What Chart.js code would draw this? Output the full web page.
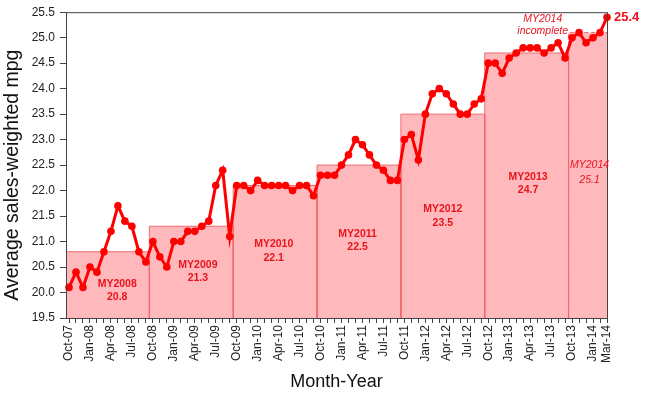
<!DOCTYPE html>
<html>
<head>
<meta charset="utf-8">
<script src="https://cdn.jsdelivr.net/npm/chart.js@4.4.1/dist/chart.umd.min.js"></script>
<style>
  html, body { margin: 0; padding: 0; background: #fff; }
  #wrap { width: 646px; height: 396px; position: relative; }
</style>
</head>
<body>
<div id="wrap"><canvas id="c" width="646" height="396"></canvas></div>
<script>
// ---- Data ----
const months = [
  'Oct-07','Nov-07','Dec-07',
  'Jan-08','Feb-08','Mar-08','Apr-08','May-08','Jun-08','Jul-08','Aug-08','Sep-08','Oct-08','Nov-08','Dec-08',
  'Jan-09','Feb-09','Mar-09','Apr-09','May-09','Jun-09','Jul-09','Aug-09','Sep-09','Oct-09','Nov-09','Dec-09',
  'Jan-10','Feb-10','Mar-10','Apr-10','May-10','Jun-10','Jul-10','Aug-10','Sep-10','Oct-10','Nov-10','Dec-10',
  'Jan-11','Feb-11','Mar-11','Apr-11','May-11','Jun-11','Jul-11','Aug-11','Sep-11','Oct-11','Nov-11','Dec-11',
  'Jan-12','Feb-12','Mar-12','Apr-12','May-12','Jun-12','Jul-12','Aug-12','Sep-12','Oct-12','Nov-12','Dec-12',
  'Jan-13','Feb-13','Mar-13','Apr-13','May-13','Jun-13','Jul-13','Aug-13','Sep-13','Oct-13','Nov-13','Dec-13',
  'Jan-14','Feb-14','Mar-14'
];
const monthlyMpg = [
  20.1,20.4,20.1,20.5,20.4,20.8,21.2,21.7,21.4,21.3,20.8,20.6,
  21.0,20.7,20.5,21.0,21.0,21.2,21.2,21.3,21.4,22.1,22.4,21.1,
  22.1,22.1,22.0,22.2,22.1,22.1,22.1,22.1,22.0,22.1,22.1,21.9,
  22.3,22.3,22.3,22.5,22.7,23.0,22.9,22.7,22.5,22.4,22.2,22.2,
  23.0,23.1,22.6,23.5,23.9,24.0,23.9,23.7,23.5,23.5,23.7,23.8,
  24.5,24.5,24.3,24.6,24.7,24.8,24.8,24.8,24.7,24.8,24.9,24.6,
  25.0,25.1,24.9,25.0,25.1,25.4
];
const modelYears = ['MY2008','MY2009','MY2010','MY2011','MY2012','MY2013','MY2014'];
const modelYearMpg = [20.8, 21.3, 22.1, 22.5, 23.5, 24.7, 25.1];
const modelYearStart = ['Oct-07','Oct-08','Oct-09','Oct-10','Oct-11','Oct-12','Oct-13'];
const yTicks = [19.5,20.0,20.5,21.0,21.5,22.0,22.5,23.0,23.5,24.0,24.5,25.0,25.5];
const labelledMonths = ['Jan','Apr','Jul','Oct'];

// ---- Layout / style (not data) ----
const RED = '#ff0000';
const TXT_RED = '#e8141c';
const BOX_FILL = 'rgba(255,180,184,0.95)';
const BOX_EDGE = '#f06a70';
const FONT = "'Liberation Sans', Arial, sans-serif";
const labelPos = [ // position of model-year labels, in axis units
  {x: 6.9,  y: 20.17}, {x: 18.45, y: 20.54}, {x: 29.3, y: 20.94},
  {x: 41.3, y: 21.15}, {x: 53.5, y: 21.63}, {x: 65.7, y: 22.27}, {x: 74.5, y: 22.5}
];

Chart.defaults.font.family = FONT;
Chart.defaults.color = '#222';

const lastIdx = months.length - 1;
const boxDatasets = modelYears.map((my, k) => {
  const s = months.indexOf(modelYearStart[k]) - 0.5;
  const e = k < modelYears.length - 1 ? months.indexOf(modelYearStart[k + 1]) - 0.5 : lastIdx + 0.5;
  const v = modelYearMpg[k];
  const last = k === modelYears.length - 1;
  return {
    type: 'line',
    label: my,
    data: [{x: s, y: yTicks[0]}, {x: s, y: v}, {x: e, y: v}, {x: e, y: yTicks[0]}],
    borderColor: BOX_EDGE,
    borderWidth: 1,
    borderDash: last ? [4, 3] : [],
    backgroundColor: BOX_FILL,
    fill: 'start',
    pointRadius: 0,
    tension: 0,
    order: 2
  };
});

const lineDataset = {
  type: 'line',
  label: 'Monthly',
  data: monthlyMpg.map((v, i) => ({x: i, y: v})),
  borderColor: RED,
  backgroundColor: RED,
  borderWidth: 3,
  pointRadius: 3.8,
  pointBackgroundColor: RED,
  pointBorderWidth: 0,
  tension: 0,
  fill: false,
  clip: false,
  order: 0
};

const annotations = {
  id: 'annotations',
  afterDatasetsDraw(chart) {
    const {ctx, chartArea: a, scales: {x, y}} = chart;
    ctx.save();
    // frame
    ctx.strokeStyle = '#444';
    ctx.lineWidth = 1;
    ctx.strokeRect(a.left + 0.5, a.top + 0.5, a.right - a.left, a.bottom - a.top);
    // model-year labels
    ctx.textAlign = 'center';
    ctx.textBaseline = 'middle';
    ctx.fillStyle = TXT_RED;
    modelYears.forEach((my, k) => {
      const px = x.getPixelForValue(labelPos[k].x);
      const py = y.getPixelForValue(labelPos[k].y);
      const last = k === modelYears.length - 1;
      ctx.font = (last ? 'italic ' : 'bold ') + '10.5px ' + FONT;
      ctx.fillText(my, px, py);
      ctx.fillText(modelYearMpg[k].toFixed(1), px, py + (last ? 15 : 13.5));
    });
    // incomplete note
    ctx.font = 'italic 10.5px ' + FONT;
    const nx = x.getPixelForValue(67.8);
    const ny = y.getPixelForValue(25.37);
    ctx.fillText('MY2014', nx, ny);
    ctx.fillText('incomplete', nx, ny + 12.5);
    // last value
    ctx.font = 'bold 13px ' + FONT;
    ctx.textAlign = 'left';
    ctx.fillText(monthlyMpg[lastIdx].toFixed(1), x.getPixelForValue(lastIdx) + 7, y.getPixelForValue(monthlyMpg[lastIdx]));
    // y axis title
    ctx.fillStyle = '#111';
    ctx.font = '19.5px ' + FONT;
    ctx.textAlign = 'center';
    ctx.translate(13, (a.top + a.bottom) / 2 + 10);
    ctx.rotate(-Math.PI / 2);
    ctx.fillText('Average sales-weighted mpg', 0, 0);
    ctx.restore();
  }
};

new Chart(document.getElementById('c'), {
  type: 'line',
  data: { datasets: [lineDataset, ...boxDatasets] },
  options: {
    responsive: false,
    animation: false,
    devicePixelRatio: 1,
    layout: { padding: { left: 0, right: 39, top: 5, bottom: 0 } },
    plugins: { legend: { display: false }, tooltip: { enabled: false } },
    scales: {
      x: {
        type: 'linear',
        min: -0.43,
        max: lastIdx,
        afterBuildTicks: s => { s.ticks = months.map((m, i) => ({value: i})); },
        afterFit: s => { s.height = 78; },
        ticks: {
          autoSkip: false,
          minRotation: 90,
          maxRotation: 90,
          padding: 2,
          font: { size: 12 },
          color: '#222',
          callback: (v) => {
            const m = months[v];
            if (!m) return '';
            return (labelledMonths.includes(m.slice(0, 3)) || v === lastIdx) ? m : '';
          }
        },
        grid: { drawOnChartArea: false, drawTicks: true, tickLength: 5, color: '#444' },
        border: { color: '#444', width: 1 },
        title: { display: true, text: 'Month-Year', font: { size: 18 }, color: '#111', padding: { top: 0, bottom: 3 } }
      },
      y: {
        type: 'linear',
        min: yTicks[0],
        max: yTicks[yTicks.length - 1],
        afterBuildTicks: s => { s.ticks = yTicks.map(v => ({value: v})); },
        afterFit: s => { s.width = 66; },
        ticks: {
          padding: 5,
          font: { size: 12 },
          color: '#222',
          callback: v => Number(v).toFixed(1)
        },
        grid: { drawOnChartArea: false, drawTicks: true, tickLength: 6, color: '#444' },
        border: { color: '#444', width: 1 },
        title: { display: false }
      }
    }
  },
  plugins: [annotations]
});
</script>
</body>
</html>
